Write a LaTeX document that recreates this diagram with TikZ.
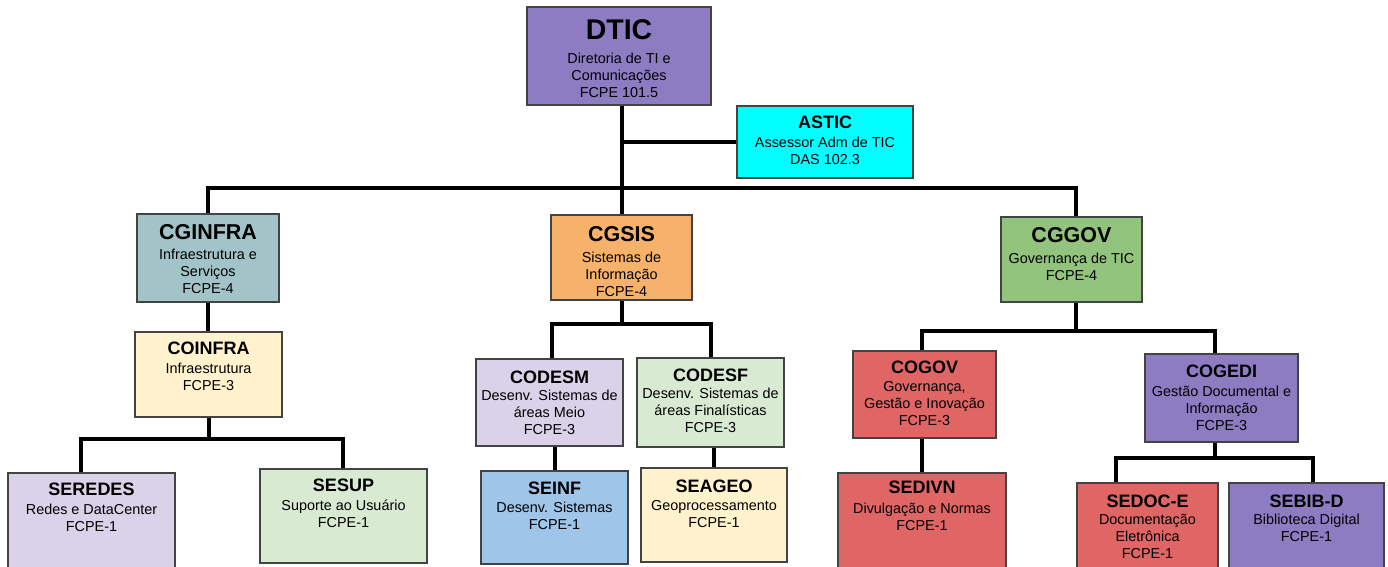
\documentclass[tikz,border=0pt]{standalone}
\usepackage{fontspec}
\setmainfont{Liberation Sans}
\usetikzlibrary{fit}
\definecolor{cpurple}{HTML}{8E7CC3}
\definecolor{ccyan}{HTML}{00FFFF}
\definecolor{cteal}{HTML}{A2C4C9}
\definecolor{cyellow}{HTML}{FFF2CC}
\definecolor{clilac}{HTML}{D9D2E9}
\definecolor{cmint}{HTML}{D9EAD3}
\definecolor{corange}{HTML}{F6B26B}
\definecolor{cblue}{HTML}{9FC5E8}
\definecolor{cgreen}{HTML}{93C47D}
\definecolor{cred}{HTML}{E06666}
\definecolor{boxline}{HTML}{434343}
\tikzset{
  unitbox/.style={draw=boxline, line width=1.1pt, inner sep=0pt},
  ttl/.style={anchor=base, inner sep=0pt, font=\bfseries\fontsize{18}{20}\selectfont},
  ttlmid/.style={anchor=base, inner sep=0pt, font=\bfseries\fontsize{21.5}{24}\selectfont},
  ttltop/.style={anchor=base, inner sep=0pt, font=\bfseries\fontsize{28.5}{32}\selectfont},
  bodytxt/.style={anchor=north, inner sep=0pt, align=center, font=\fontsize{14.4}{17}\selectfont},
  conn/.style={line width=4pt, black, line join=miter}
}
\begin{document}
\begin{tikzpicture}[x=1pt,y=-1pt]
\useasboundingbox (0,0) rectangle (1388,566);
\fill[white] (0,0) rectangle (1388,566);

% ---- boxes ----
\node[unitbox, fill=cpurple, fit={(527,7) (711,105)}] (dtic) {};
\node[ttltop] (dtic-t) at (619,39) {DTIC};
\node[bodytxt] (dtic-b) at (619,51.1) {\strut Diretoria de TI e\\Comunicações\\FCPE 101.5};

\node[unitbox, fill=ccyan, fit={(737,106) (913,178)}] (astic) {};
\node[ttl] (astic-t) at (825,128) {ASTIC};
\node[bodytxt] (astic-b) at (825,135.1) {\strut Assessor Adm de TIC\\DAS 102.3};

\node[unitbox, fill=cteal, fit={(137,214) (279,302)}] (cginfra) {};
\node[ttlmid] (cginfra-t) at (208,239) {CGINFRA};
\node[bodytxt] (cginfra-b) at (208,247.1) {\strut Infraestrutura e\\Serviços\\FCPE-4};

\node[unitbox, fill=cyellow, fit={(135,332) (282,417)}] (coinfra) {};
\node[ttl] (coinfra-t) at (208.5,354) {COINFRA};
\node[bodytxt] (coinfra-b) at (208.5,361.1) {\strut Infraestrutura\\FCPE-3};

\node[unitbox, fill=clilac, fit={(8,473) (175,572)}] (seredes) {};
\node[ttl] (seredes-t) at (91.5,495) {SEREDES};
\node[bodytxt] (seredes-b) at (91.5,502.1) {\strut Redes e DataCenter\\FCPE-1};

\node[unitbox, fill=cmint, fit={(260,469) (427,563)}] (sesup) {};
\node[ttl] (sesup-t) at (343.5,491) {SESUP};
\node[bodytxt] (sesup-b) at (343.5,498.1) {\strut Suporte ao Usuário\\FCPE-1};

\node[unitbox, fill=corange, fit={(551,215) (692,300)}] (cgsis) {};
\node[ttlmid] (cgsis-t) at (621.5,241) {CGSIS};
\node[bodytxt] (cgsis-b) at (621.5,250.1) {\strut Sistemas de\\Informação\\FCPE-4};

\node[unitbox, fill=clilac, fit={(476,359) (623,446)}] (codesm) {};
\node[ttl] (codesm-t) at (549.5,383) {CODESM};
\node[bodytxt] (codesm-b) at (549.5,388.1) {\strut Desenv. Sistemas de\\áreas Meio\\FCPE-3};

\node[unitbox, fill=cmint, fit={(637,358) (784,447)}] (codesf) {};
\node[ttl] (codesf-t) at (710.5,381) {CODESF};
\node[bodytxt] (codesf-b) at (710.5,386.1) {\strut Desenv. Sistemas de\\áreas Finalísticas\\FCPE-3};

\node[unitbox, fill=cblue, fit={(481,471) (628,564)}] (seinf) {};
\node[ttl] (seinf-t) at (554.5,494) {SEINF};
\node[bodytxt] (seinf-b) at (554.5,500.1) {\strut Desenv. Sistemas\\FCPE-1};

\node[unitbox, fill=cyellow, fit={(641,468) (787,562)}] (seageo) {};
\node[ttl] (seageo-t) at (714,492) {SEAGEO};
\node[bodytxt] (seageo-b) at (714,498.1) {\strut Geoprocessamento\\FCPE-1};

\node[unitbox, fill=cgreen, fit={(1001,217) (1142,302)}] (cggov) {};
\node[ttlmid] (cggov-t) at (1071.5,242) {CGGOV};
\node[bodytxt] (cggov-b) at (1071.5,251.1) {\strut Governança de TIC\\FCPE-4};

\node[unitbox, fill=cred, fit={(853,351) (996,438)}] (cogov) {};
\node[ttl] (cogov-t) at (924.5,373) {COGOV};
\node[bodytxt] (cogov-b) at (924.5,379.1) {\strut Governança,\\Gestão e Inovação\\FCPE-3};

\node[unitbox, fill=cred, fit={(838,473) (1006,572)}] (sedivn) {};
\node[ttl] (sedivn-t) at (922,493) {SEDIVN};
\node[bodytxt] (sedivn-b) at (922,501.1) {\strut Divulgação e Normas\\FCPE-1};

\node[unitbox, fill=cpurple, fit={(1145,354) (1298,442)}] (cogedi) {};
\node[ttl] (cogedi-t) at (1221.5,377) {COGEDI};
\node[bodytxt] (cogedi-b) at (1221.5,384.1) {\strut Gestão Documental e\\Informação\\FCPE-3};

\node[unitbox, fill=cred, fit={(1077,483) (1218,572)}] (sedoce) {};
\node[ttl] (sedoce-t) at (1147.5,507) {SEDOC-E};
\node[bodytxt] (sedoce-b) at (1147.5,512.1) {\strut Documentação\\Eletrônica\\FCPE-1};

\node[unitbox, fill=cpurple, fit={(1229,483) (1384,572)}] (sebibd) {};
\node[ttl] (sebibd-t) at (1306.5,507) {SEBIB-D};
\node[bodytxt] (sebibd-b) at (1306.5,512.1) {\strut Biblioteca Digital\\FCPE-1};

% ---- bus coordinates ----
\coordinate (b1L) at (208,188);
\coordinate (b1R) at (1076,188);
\coordinate (b2L) at (81,439);
\coordinate (b2R) at (343,439);
\coordinate (b3L) at (552,324);
\coordinate (b3R) at (711,324);
\coordinate (b4L) at (922,331);
\coordinate (b4R) at (1215,331);
\coordinate (b4M) at (1076,331);
\coordinate (b5L) at (1116,458);
\coordinate (b5R) at (1313,458);

% ---- connectors ----
\draw[conn] (cgsis.north) -- (cgsis.north |- dtic.south);
\draw[conn] (cgsis.north |- astic.west) -- (astic.west);
\draw[conn] (b1L |- cginfra.north) -- (b1L) -- (b1R) -- (b1R |- cggov.north);

\draw[conn] (cginfra.south) -- (cginfra.south |- coinfra.north);
\draw[conn] (coinfra.south) -- (coinfra.south |- b2L);
\draw[conn] (b2L |- seredes.north) -- (b2L) -- (b2R) -- (b2R |- sesup.north);

\draw[conn] (cgsis.south) -- (cgsis.south |- b3L);
\draw[conn] (b3L |- codesm.north) -- (b3L) -- (b3R) -- (b3R |- codesf.north);
\draw[conn] (seinf.north) -- (seinf.north |- codesm.south);
\draw[conn] (seageo.north) -- (seageo.north |- codesf.south);

\draw[conn] (b4M |- cggov.south) -- (b4M);
\draw[conn] (b4L |- cogov.north) -- (b4L) -- (b4R) -- (b4R |- cogedi.north);
\draw[conn] (sedivn.north) -- (sedivn.north |- cogov.south);
\draw[conn] (b4R |- cogedi.south) -- (b4R |- b5L);
\draw[conn] (b5L |- sedoce.north) -- (b5L) -- (b5R) -- (b5R |- sebibd.north);
\end{tikzpicture}
\end{document}
